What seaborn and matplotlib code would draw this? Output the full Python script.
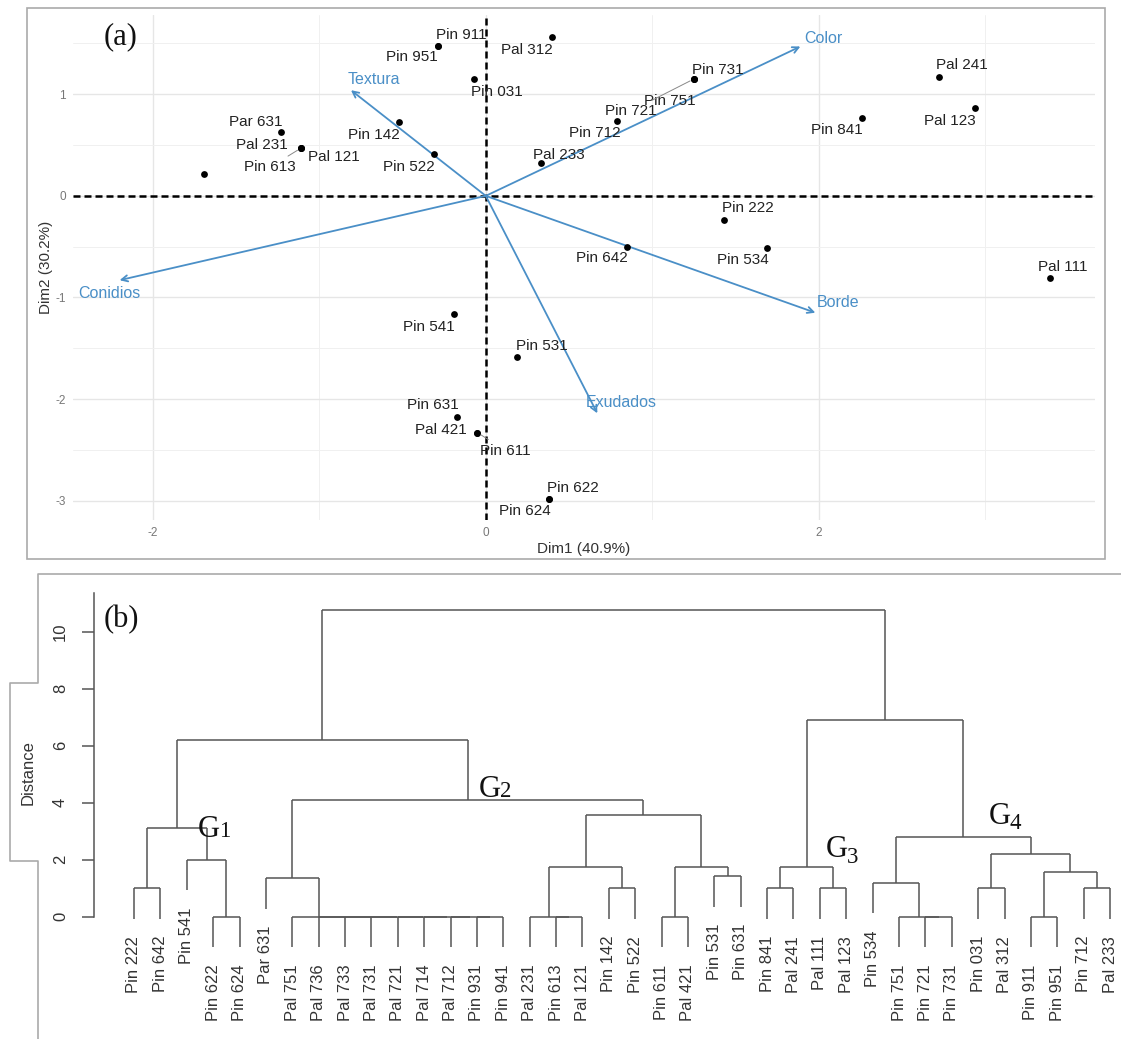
import matplotlib
matplotlib.use("Agg")
import matplotlib.pyplot as plt
import seaborn as sns
import pandas as pd
from matplotlib.lines import Line2D
from matplotlib.patches import Rectangle

# ---------------- data: panel (a) PCA biplot ----------------
samples = ["Pin 911", "Pin 951", "Pal 312", "Pin 031", "Pin 142", "Pin 522",
           "Par 631", "Pal 231", "Pal 121", "Pin 613", "", "Pal 233",
           "Pin 712", "Pin 731", "Pin 751", "Pin 721", "Pin 841", "Pal 241",
           "Pal 123", "Pin 222", "Pin 642", "Pin 534", "Pal 111", "Pin 541",
           "Pin 531", "Pin 631", "Pal 421", "Pin 611", "Pin 622", "Pin 624"]
dim1 = [-0.29, -0.29, 0.40, -0.07, -0.52, -0.31,
        -1.23, -1.11, -1.11, -1.11, -1.69, 0.33,
        0.79, 1.25, 1.25, 1.25, 2.26, 2.72,
        2.94, 1.43, 0.85, 1.69, 3.39, -0.19,
        0.19, -0.17, -0.05, -0.05, 0.38, 0.38]
dim2 = [1.47, 1.47, 1.56, 1.15, 0.73, 0.41,
        0.63, 0.47, 0.47, 0.47, 0.22, 0.32,
        0.74, 1.15, 1.15, 1.15, 0.77, 1.17,
        0.86, -0.24, -0.50, -0.51, -0.81, -1.16,
        -1.59, -2.18, -2.33, -2.33, -2.98, -2.98]

variables = ["Color", "Textura", "Conidios", "Borde", "Exudados"]
var_dim1 = [1.89, -0.81, -2.20, 1.98, 0.67]
var_dim2 = [1.47, 1.04, -0.83, -1.15, -2.14]

xlabel_a = "Dim1 (40.9%)"
ylabel_a = "Dim2 (30.2%)"

# ---------------- data: panel (b) dendrogram ----------------
leaves = ["Pin 222", "Pin 642", "Pin 541", "Pin 622", "Pin 624", "Par 631",
          "Pal 751", "Pal 736", "Pal 733", "Pal 731", "Pal 721", "Pal 714",
          "Pal 712", "Pin 931", "Pin 941", "Pal 231", "Pin 613", "Pal 121",
          "Pin 142", "Pin 522", "Pin 611", "Pal 421", "Pin 531", "Pin 631",
          "Pin 841", "Pal 241", "Pal 111", "Pal 123", "Pin 534", "Pin 751",
          "Pin 721", "Pin 731", "Pin 031", "Pal 312", "Pin 911", "Pin 951",
          "Pin 712", "Pal 233"]
# merges: (child a, child b, height); "m<k>" refers to the k-th merge
merge_a = ["Pin 222", "Pin 622", "Pin 541", "m0", "Pin 931", "Pal 712", "Pal 714",
           "Pal 721", "Pal 731", "Pal 733", "Pal 736", "Pal 751", "Par 631",
           "Pin 613", "Pal 231", "Pin 142", "m14", "Pin 611", "Pin 531", "m17",
           "m16", "m12", "m3", "Pin 841", "Pal 111", "m23", "Pin 721", "Pin 751",
           "Pin 534", "Pin 031", "Pin 911", "Pin 712", "m30", "m29", "m28", "m25",
           "m22"]
merge_b = ["Pin 642", "Pin 624", "m1", "m2", "Pin 941", "m4", "m5",
           "m6", "m7", "m8", "m9", "m10", "m11",
           "Pal 121", "m13", "Pin 522", "m15", "Pal 421", "Pin 631", "m18",
           "m19", "m20", "m21", "Pal 241", "Pal 123", "m24", "Pin 731", "m26",
           "m27", "Pal 312", "Pin 951", "Pal 233", "m31", "m32", "m33", "m34",
           "m35"]
merge_h = [1.0, 0.0, 2.0, 3.1, 0.0, 0.0, 0.0,
           0.0, 0.0, 0.0, 0.0, 0.0, 1.35,
           0.0, 0.0, 1.0, 1.73, 0.0, 1.43, 1.73,
           3.57, 4.09, 6.2, 1.0, 1.0, 1.73, 0.0, 0.0,
           1.2, 1.0, 0.0, 1.0, 1.58, 2.2, 2.81, 6.9,
           10.76]
group_names = ["G", "G", "G", "G"]
group_digits = ["1", "2", "3", "4"]
ylabel_b = "Distance"

# ---------------- styling / layout ----------------
W, H = 1121, 1039
BLUE = "#4a8fc7"
sns.set_theme(style="white")
plt.rcParams["font.family"] = ["Liberation Sans", "DejaVu Sans"]
plt.rcParams["axes.unicode_minus"] = False

fig = plt.figure(figsize=(W / 100, H / 100), dpi=100)
fig.patch.set_facecolor("white")

def fx(px):
    return px / W

def fy(py):
    return 1 - py / H

# ---- panel (a)
axa = fig.add_axes([fx(73), fy(520), fx(1095) - fx(73), fy(15) - fy(520)])
axa.set_xlim(-2.48, 3.66)
axa.set_ylim(-3.19, 1.78)
axa.set_xticks([-2, 0, 2])
axa.set_yticks([-3, -2, -1, 0, 1])
axa.set_xticks([-1, 1, 3], minor=True)
axa.set_yticks([-2.5, -1.5, -0.5, 0.5, 1.5], minor=True)
axa.grid(which="major", color="#e6e6e6", lw=1.0)
axa.grid(which="minor", color="#f0f0f0", lw=0.7)
axa.set_axisbelow(True)
for s in axa.spines.values():
    s.set_visible(False)
axa.tick_params(which="major", length=3, width=0.8, color="#999999",
                labelcolor="#777777", labelsize=8.5, pad=2)
axa.tick_params(which="minor", length=0)
axa.axhline(0, color="black", lw=1.8, ls=(0, (2.8, 1.6)), zorder=2)
axa.axvline(0, color="black", lw=1.8, ls=(0, (2.8, 1.6)), zorder=2)

df = pd.DataFrame({"dim1": dim1, "dim2": dim2, "label": samples})
sns.scatterplot(data=df, x="dim1", y="dim2", color="black", s=24,
                linewidth=0, ax=axa, zorder=4)

label_offsets = {
    "Pin 911": (24, 11), "Pin 951": (-26, -11), "Pal 312": (-25, -13),
    "Pin 031": (23, -13), "Pin 142": (-25, -13), "Pin 522": (-25, -13),
    "Par 631": (-25, 10), "Pal 231": (-39, 3), "Pal 121": (33, -9),
    "Pin 613": (-31, -19), "Pal 233": (18, 8), "Pin 712": (-22, -12),
    "Pin 731": (24, 9), "Pin 751": (-24, -22), "Pin 721": (-63, -32),
    "Pin 841": (-25, -12), "Pal 241": (23, 12), "Pal 123": (-25, -13),
    "Pin 222": (24, 12), "Pin 642": (-25, -11), "Pin 534": (-24, -12),
    "Pal 111": (13, 11), "Pin 541": (-25, -13), "Pin 531": (24, 11),
    "Pin 631": (-25, 12), "Pal 421": (-37, 3), "Pin 611": (28, -18),
    "Pin 622": (24, 11), "Pin 624": (-24, -12),
}
connectors = {"Pin 613", "Pin 721", "Pin 611"}
for name, x, y in zip(samples, dim1, dim2):
    if not name:
        continue
    dx, dy = label_offsets[name]
    kw = {}
    if name in connectors:
        kw["arrowprops"] = dict(arrowstyle="-", color="#888888", lw=0.7,
                                shrinkA=1, shrinkB=3)
    axa.annotate(name, xy=(x, y), xytext=(dx, dy), textcoords="offset pixels",
                 ha="center", va="center", fontsize=11, color="#222222",
                 zorder=5, **kw)

var_offsets = {"Color": (23, 8), "Textura": (23, 11), "Conidios": (-10, -13),
               "Borde": (23, 10), "Exudados": (24, 11)}
for name, x, y in zip(variables, var_dim1, var_dim2):
    axa.annotate("", xy=(x, y), xytext=(0, 0),
                 arrowprops=dict(arrowstyle="->", color=BLUE, lw=1.3,
                                 mutation_scale=11, shrinkA=0, shrinkB=0),
                 zorder=3)
    dx, dy = var_offsets[name]
    axa.annotate(name, xy=(x, y), xytext=(dx, dy), textcoords="offset pixels",
                 ha="center", va="center", fontsize=11.5, color=BLUE, zorder=5)

axa.set_xlabel(xlabel_a, fontsize=11, color="#333333", labelpad=2)
axa.set_ylabel(ylabel_a, fontsize=11, color="#333333", labelpad=2)

fig.add_artist(Rectangle((fx(27), fy(559)), fx(1105) - fx(27), fy(8) - fy(559),
                         transform=fig.transFigure, fill=False,
                         edgecolor="#aaaaaa", lw=1.2))
fig.text(fx(121), fy(37), "(a)", family="Liberation Serif", fontsize=22,
         ha="center", va="center", color="#111111")

# ---- panel (b)
axb = fig.add_axes([fx(93.6), 0, 1 - fx(93.6), fy(580)])
axb.set_xlim(-1.531, 37.415)
axb.set_ylim(-4.291, 11.814)
axb.set_facecolor("none")

pos = {name: float(i) for i, name in enumerate(leaves)}
hgt = {name: None for name in leaves}
hang = 0.1 * max(merge_h)
LC = "#555555"
for k, (a, b, h) in enumerate(zip(merge_a, merge_b, merge_h)):
    xa, xb = pos[a], pos[b]
    for c, xc in ((a, xa), (b, xb)):
        base = hgt[c] if hgt[c] is not None else h - hang
        axb.plot([xc, xc], [base, h], color=LC, lw=1.1, solid_capstyle="butt")
        if hgt[c] is None:
            axb.annotate(c, xy=(xc, h - hang), xytext=(0, -17),
                         textcoords="offset pixels", rotation=90,
                         ha="center", va="top", fontsize=12, color="#333333")
    axb.plot([xa, xb], [h, h], color=LC, lw=1.1, solid_capstyle="butt")
    m = "m%d" % k
    pos[m] = (xa + xb) / 2
    hgt[m] = h

for s in ["top", "right", "bottom"]:
    axb.spines[s].set_visible(False)
axb.spines["left"].set_bounds(0, 11.35)
axb.spines["left"].set_color(LC)
axb.spines["left"].set_linewidth(1.1)
axb.set_xticks([])
axb.set_yticks([0, 2, 4, 6, 8, 10])
axb.tick_params(axis="y", direction="out", length=8.4, width=1.1, color=LC,
                labelsize=12, labelcolor="#333333", pad=10, left=True)
for lab in axb.get_yticklabels():
    lab.set_rotation(90)
    lab.set_va("center")

# group labels (G + old-style-looking digit)
group_pos = [(2.43, 2.80), (13.08, 4.20), (26.23, 2.09), (32.41, 3.27)]
digit_drop = {"1": 0, "2": 0, "3": -6, "4": -5}
for g, d, (gx, gh) in zip(group_names, group_digits, group_pos):
    axb.text(gx, gh, g, family="Liberation Serif", fontsize=22,
             ha="left", va="baseline", color="#111111")
    axb.annotate(d, xy=(gx, gh), xytext=(21, digit_drop[d]),
                 textcoords="offset pixels", family="Liberation Serif",
                 fontsize=16.5, ha="left", va="baseline", color="#111111")

fig.text(fx(28.5), fy(773), ylabel_b, rotation=90, ha="center", va="center",
         fontsize=12, color="#333333")
fig.text(fx(121), fy(620), "(b)", family="Liberation Serif", fontsize=22,
         ha="center", va="center", color="#111111")

bx = [W, 37.5, 37.5, 10, 10, 37.5, 37.5]
by = [574, 574, 683, 683, 861, 861, H]
fig.add_artist(Line2D([fx(v) for v in bx], [fy(v) for v in by],
                      transform=fig.transFigure, color="#aaaaaa", lw=1.2))

fig.savefig("out.png", dpi=100, facecolor="white")
